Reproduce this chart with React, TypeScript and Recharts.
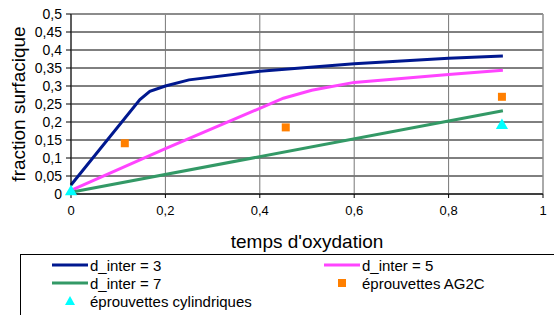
import React from 'react';
import {
  ComposedChart,
  Line,
  Scatter,
  XAxis,
  YAxis,
  CartesianGrid,
  ReferenceLine,
  Label,
} from 'recharts';

// courbes simulées
const inter3 = [
  { x: 0, y: 0.025 },
  { x: 0.146, y: 0.262 },
  { x: 0.167, y: 0.285 },
  { x: 0.2, y: 0.3 },
  { x: 0.25, y: 0.317 },
  { x: 0.4, y: 0.341 },
  { x: 0.6, y: 0.362 },
  { x: 0.8, y: 0.377 },
  { x: 0.915, y: 0.383 },
];

const inter5 = [
  { x: 0, y: 0.01 },
  { x: 0.2, y: 0.126 },
  { x: 0.45, y: 0.266 },
  { x: 0.51, y: 0.288 },
  { x: 0.6, y: 0.31 },
  { x: 0.8, y: 0.332 },
  { x: 0.915, y: 0.344 },
];

const inter7 = [
  { x: 0, y: 0.005 },
  { x: 0.915, y: 0.231 },
];

// mesures
const ag2c = [
  { x: 0.114, y: 0.141 },
  { x: 0.455, y: 0.185 },
  { x: 0.913, y: 0.27 },
];

const cylindriques = [
  { x: 0, y: 0.006 },
  { x: 0.913, y: 0.19 },
];

const xTicks = [0, 0.2, 0.4, 0.6, 0.8, 1];
const yTicks = [0, 0.05, 0.1, 0.15, 0.2, 0.25, 0.3, 0.35, 0.4, 0.45, 0.5];

const fmt = (v: number) => String(Math.round(v * 100) / 100).replace('.', ',');

const FONT = '"Liberation Sans", Arial, sans-serif';

const LegendLine = ({ color }: { color: string }) => (
  <svg width={36} height={10} style={{ display: 'block' }}>
    <line x1={0} y1={5} x2={36} y2={5} stroke={color} strokeWidth={3} />
  </svg>
);

const LegendMark = ({ kind }: { kind: 'square' | 'triangle' }) => (
  <svg width={36} height={12} style={{ display: 'block' }}>
    {kind === 'square' ? (
      <rect x={14} y={2} width={8} height={8} fill="#ff7f00" />
    ) : (
      <polygon points="18,1 23,10 13,10" fill="#00ffff" />
    )}
  </svg>
);

const Row = ({ children }: { children: React.ReactNode }) => (
  <div style={{ display: 'flex', alignItems: 'center', height: 18 }}>{children}</div>
);

export default function App() {
  return (
    <div style={{ position: 'absolute', left: 0, top: 0, width: 554, height: 315, overflow: 'hidden', fontFamily: FONT, background: '#fff' }}>
      <ComposedChart width={554} height={252} margin={{ top: 14, right: 11, left: 0, bottom: 0 }}>
        <CartesianGrid horizontal vertical={false} stroke="#000" strokeWidth={1} />
        <CartesianGrid horizontal={false} vertical stroke="#777" strokeWidth={1} />
        <XAxis
          type="number"
          dataKey="x"
          domain={[0, 1]}
          ticks={xTicks}
          interval={0}
          tickFormatter={fmt}
          height={58}
          stroke="#000"
          tickSize={4}
          tickMargin={8}
          tick={{ fill: '#000', fontSize: 13, fontFamily: FONT }}
        >
          <Label value="temps d'oxydation" position="insideBottom" offset={4} style={{ fill: '#000', fontSize: 19, fontFamily: FONT }} />
        </XAxis>
        <YAxis
          type="number"
          dataKey="y"
          domain={[0, 0.5]}
          ticks={yTicks}
          interval={0}
          tickFormatter={fmt}
          width={71}
          stroke="#000"
          tickSize={5}
          tickMargin={4}
          tick={{ fill: '#000', fontSize: 14, fontFamily: FONT }}
        >
          <Label value="fraction surfacique" angle={-90} position="insideLeft" offset={18} style={{ textAnchor: 'middle', fill: '#000', fontSize: 19, fontFamily: FONT }} />
        </YAxis>
        <ReferenceLine y={0.5} stroke="#999" />
        <ReferenceLine x={1} stroke="#999" />
        <Line data={inter3} dataKey="y" stroke="#00188f" strokeWidth={3} dot={false} isAnimationActive={false} type="linear" />
        <Line data={inter5} dataKey="y" stroke="#ff44ff" strokeWidth={3} dot={false} isAnimationActive={false} type="linear" />
        <Line data={inter7} dataKey="y" stroke="#339966" strokeWidth={3} dot={false} isAnimationActive={false} type="linear" />
        <Scatter data={ag2c} dataKey="y" fill="#ff7f00" shape="square" isAnimationActive={false} />
        <Scatter data={cylindriques} dataKey="y" fill="#00ffff" shape="triangle" isAnimationActive={false} />
      </ComposedChart>
      <div
        style={{
          position: 'absolute',
          left: 20,
          top: 254,
          width: 560,
          height: 80,
          border: '1px solid #000',
          boxSizing: 'border-box',
          fontSize: 15,
          color: '#000',
          paddingTop: 1,
        }}
      >
        <div style={{ display: 'flex' }}>
          <div style={{ width: 272, paddingLeft: 31 }}>
            <Row><LegendLine color="#00188f" /><span style={{ marginLeft: 2 }}>d_inter = 3</span></Row>
            <Row><LegendLine color="#339966" /><span style={{ marginLeft: 2 }}>d_inter = 7</span></Row>
            <Row><LegendMark kind="triangle" /><span style={{ marginLeft: 2 }}>éprouvettes cylindriques</span></Row>
          </div>
          <div>
            <Row><LegendLine color="#ff44ff" /><span style={{ marginLeft: 2 }}>d_inter = 5</span></Row>
            <Row><LegendMark kind="square" /><span style={{ marginLeft: 2 }}>éprouvettes AG2C</span></Row>
          </div>
        </div>
      </div>
    </div>
  );
}
